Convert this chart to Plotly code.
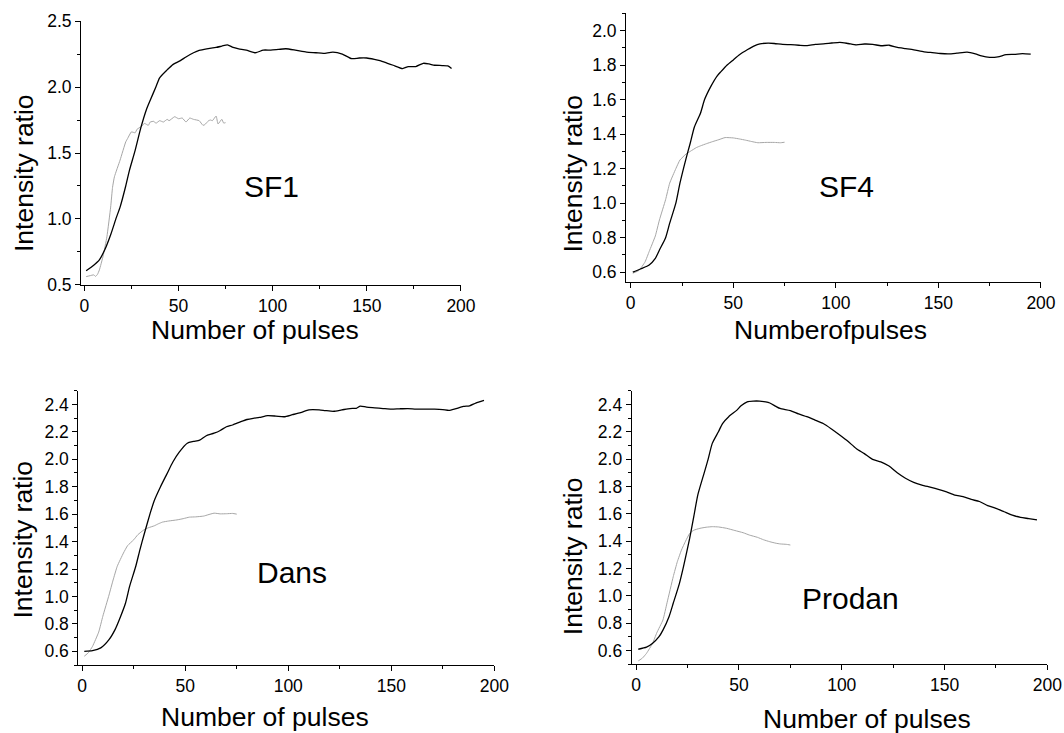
import plotly.graph_objects as go

# ---------------- data ----------------
sf1_black_x = [1, 5, 8, 11, 14, 17, 19, 22, 24, 27, 30, 33, 35, 38, 40, 44, 47, 51, 54, 58, 61, 65, 70, 73, 76,
               79, 82, 86, 91, 95, 99, 103, 107, 112, 118, 123, 127, 132, 137, 142, 146, 150, 154, 157, 161, 164,
               169, 172, 176, 180, 183, 186, 190, 193, 195]
sf1_black_y = [0.608, 0.65, 0.69, 0.77, 0.88, 1.01, 1.09, 1.25, 1.37, 1.52, 1.69, 1.83, 1.90, 2.00, 2.07, 2.13,
               2.17, 2.20, 2.228, 2.26, 2.278, 2.29, 2.30, 2.31, 2.32, 2.30, 2.29, 2.28, 2.26, 2.28, 2.28, 2.285,
               2.29, 2.28, 2.265, 2.26, 2.255, 2.265, 2.25, 2.215, 2.22, 2.22, 2.21, 2.20, 2.18, 2.165, 2.14,
               2.155, 2.155, 2.18, 2.175, 2.165, 2.163, 2.16, 2.14]
sf1_gray_x = [1, 3, 5, 6, 7, 8, 10, 12, 14, 15, 16, 19, 22, 23, 25, 27, 28, 30, 32, 34, 35, 37, 38, 40, 42, 44,
              45, 48, 50, 52, 54, 56, 58, 61, 63, 64, 66, 67, 68, 70, 71, 73, 74, 75]
sf1_gray_y = [0.563, 0.57, 0.576, 0.565, 0.58, 0.613, 0.72, 0.865, 1.09, 1.24, 1.32, 1.446, 1.584, 1.61, 1.66,
              1.653, 1.68, 1.698, 1.724, 1.71, 1.735, 1.74, 1.725, 1.745, 1.735, 1.755, 1.745, 1.775, 1.76,
              1.765, 1.735, 1.765, 1.755, 1.745, 1.71, 1.715, 1.745, 1.75, 1.745, 1.78, 1.72, 1.755, 1.727, 1.73]

sf4_black_x = [1, 5, 9, 12, 14, 17, 19, 22, 24, 27, 29, 31, 34, 36, 39, 42, 44, 47, 50, 53, 57, 60, 63, 67, 70,
               74, 78, 82, 86, 90, 94, 98, 102, 106, 110, 114, 118, 122, 126, 130, 134, 138, 143, 147, 151, 155,
               159, 164, 168, 171, 175, 179, 183, 187, 191, 195]
sf4_black_y = [0.60, 0.62, 0.642, 0.68, 0.729, 0.80, 0.884, 1.00, 1.116, 1.26, 1.347, 1.44, 1.521, 1.60, 1.675,
               1.735, 1.762, 1.80, 1.83, 1.86, 1.89, 1.91, 1.923, 1.927, 1.925, 1.92, 1.918, 1.915, 1.913, 1.92,
               1.923, 1.928, 1.932, 1.925, 1.917, 1.922, 1.92, 1.912, 1.915, 1.902, 1.895, 1.888, 1.877, 1.872,
               1.867, 1.865, 1.869, 1.875, 1.865, 1.853, 1.845, 1.848, 1.86, 1.862, 1.866, 1.863]
sf4_gray_x = [1, 4, 7, 9, 12, 14, 17, 19, 22, 24, 27, 29, 32, 34, 37, 40, 43, 46, 50, 53, 56, 59, 62, 66, 70, 73, 75]
sf4_gray_y = [0.594, 0.61, 0.66, 0.72, 0.81, 0.903, 1.02, 1.116, 1.20, 1.25, 1.285, 1.30, 1.322, 1.332, 1.345,
              1.357, 1.368, 1.38, 1.378, 1.372, 1.365, 1.357, 1.35, 1.352, 1.352, 1.35, 1.353]

dans_black_x = [1, 5, 9, 13, 16, 18, 21, 23, 26, 28, 30, 33, 35, 38, 41, 44, 47, 51, 54, 57, 60, 64, 67, 70, 73,
                77, 80, 83, 86, 90, 94, 98, 102, 106, 110, 115, 118, 122, 126, 130, 133, 135, 138, 142, 146, 150,
                154, 158, 162, 167, 171, 175, 178, 181, 185, 188, 191, 195]
dans_black_y = [0.60, 0.605, 0.625, 0.685, 0.76, 0.83, 0.95, 1.073, 1.22, 1.34, 1.45, 1.607, 1.70, 1.80, 1.89,
                1.98, 2.05, 2.117, 2.13, 2.14, 2.17, 2.19, 2.21, 2.237, 2.25, 2.274, 2.29, 2.299, 2.305, 2.318,
                2.315, 2.31, 2.325, 2.34, 2.36, 2.36, 2.355, 2.35, 2.36, 2.37, 2.372, 2.388, 2.38, 2.375, 2.37,
                2.365, 2.368, 2.37, 2.366, 2.365, 2.365, 2.362, 2.356, 2.367, 2.385, 2.39, 2.41, 2.43]
dans_gray_x = [1, 3, 5, 8, 10, 13, 15, 17, 20, 22, 25, 27, 30, 32, 35, 37, 39, 42, 46, 49, 52, 55, 59, 61, 64,
               67, 70, 73, 75]
dans_gray_y = [0.564, 0.59, 0.636, 0.74, 0.855, 1.01, 1.12, 1.22, 1.316, 1.37, 1.413, 1.45, 1.486, 1.50, 1.515,
               1.53, 1.542, 1.55, 1.558, 1.567, 1.578, 1.58, 1.586, 1.595, 1.607, 1.602, 1.603, 1.605, 1.60]

prodan_black_x = [1, 5, 8, 11, 13, 16, 18, 21, 23, 26, 28, 30, 33, 35, 37, 40, 42, 45, 49, 51, 54, 57, 60, 63,
                  65, 68, 70, 75, 79, 83, 87, 91, 95, 99, 103, 107, 111, 115, 119, 123, 127, 131, 135, 139, 143,
                  147, 151, 155, 159, 163, 167, 171, 175, 179, 183, 187, 191, 195]
prodan_black_y = [0.61, 0.625, 0.654, 0.70, 0.75, 0.85, 0.946, 1.09, 1.214, 1.42, 1.579, 1.74, 1.896, 2.00,
                  2.115, 2.20, 2.26, 2.31, 2.358, 2.39, 2.419, 2.424, 2.424, 2.418, 2.41, 2.385, 2.37, 2.355,
                  2.33, 2.31, 2.285, 2.26, 2.22, 2.176, 2.13, 2.078, 2.04, 1.998, 1.98, 1.949, 1.90, 1.86, 1.83,
                  1.81, 1.795, 1.779, 1.76, 1.737, 1.725, 1.705, 1.69, 1.66, 1.64, 1.615, 1.59, 1.574, 1.565, 1.555]
prodan_gray_x = [1, 3, 5, 8, 10, 13, 15, 18, 20, 22, 24, 26, 28, 31, 34, 37, 40, 44, 48, 52, 55, 59, 62, 65, 68,
                 70, 73, 75]
prodan_gray_y = [0.525, 0.545, 0.58, 0.654, 0.73, 0.824, 0.95, 1.14, 1.25, 1.335, 1.40, 1.457, 1.48, 1.494,
                 1.502, 1.506, 1.504, 1.494, 1.478, 1.462, 1.445, 1.428, 1.41, 1.396, 1.385, 1.38, 1.377, 1.372]

panel_labels = ["SF1", "SF4", "Dans", "Prodan"]
x_titles = ["Number of pulses", "Numberofpulses", "Number of pulses", "Number of pulses"]
y_title = "Intensity ratio"

# ---------------- layout helpers ----------------
W, H = 1064, 733
FONT = "Liberation Sans, Arial, sans-serif"

def fx(px):
    return px / W

def fy(py):
    return 1 - py / H

# pixel boxes: left, right, top, bottom
boxes = [(81, 461, 21, 285), (626, 1041, 13.3, 281.7), (78.3, 494.3, 390.7, 665), (631.7, 1047.3, 390.7, 664.3)]
xranges = [[-1.75, 200.01], [-2.3, 200.01], [-1.9, 200.01], [-2.2, 200.01]]
yranges = [[0.4995, 2.5005], [0.545, 2.1], [0.5, 2.5], [0.5, 2.5]]
ytick = [(0.5, 0.5, 0.25), (0.6, 0.2, 0.1), (0.4, 0.2, 0.1), (0.4, 0.2, 0.1)]
label_pos = [(271.7, 186.7), (846, 186.7), (291.7, 572.7), (850, 598.3)]
xtitle_pos = [(255, 330), (830.5, 330), (265, 717), (866.7, 719)]
ytitle_pos = [(24, 173), (572.5, 174), (22.5, 540), (572.5, 556.7)]

series = [
    (sf1_black_x, sf1_black_y, sf1_gray_x, sf1_gray_y),
    (sf4_black_x, sf4_black_y, sf4_gray_x, sf4_gray_y),
    (dans_black_x, dans_black_y, dans_gray_x, dans_gray_y),
    (prodan_black_x, prodan_black_y, prodan_gray_x, prodan_gray_y),
]

fig = go.Figure()
layout = dict(template="none", width=W, height=H, autosize=False,
              margin=dict(l=0, r=0, t=0, b=0, pad=0), showlegend=False,
              plot_bgcolor="white", paper_bgcolor="white", font=dict(family=FONT, color="black"))
annotations = []

for i, (bx, by, gx, gy) in enumerate(series):
    n = "" if i == 0 else str(i + 1)
    xa, ya = "x" + n, "y" + n
    fig.add_trace(go.Scatter(x=gx, y=gy, mode="lines",
                             line=dict(color="#a6a6a6", width=1, shape="spline", smoothing=0.4),
                             xaxis=xa, yaxis=ya, hoverinfo="skip"))
    fig.add_trace(go.Scatter(x=bx, y=by, mode="lines",
                             line=dict(color="black", width=1.3, shape="spline", smoothing=0.6),
                             xaxis=xa, yaxis=ya, hoverinfo="skip"))
    l, r, t, b = boxes[i]
    layout["xaxis" + n] = dict(domain=[fx(l), fx(r)], range=xranges[i], anchor=ya, automargin=False,
                               showline=True, linecolor="black", linewidth=1, showgrid=False, zeroline=False,
                               ticks="outside", ticklen=5, tickcolor="black", tickwidth=1,
                               tick0=0, dtick=50, tickfont=dict(size=17.5, family=FONT),
                               minor=dict(ticks="outside", ticklen=3, dtick=25, tick0=0, tickcolor="black",
                                          showgrid=False))
    t0, dt, mdt = ytick[i]
    layout["yaxis" + n] = dict(domain=[fy(b), fy(t)], range=yranges[i], anchor=xa, automargin=False,
                               showline=True, linecolor="black", linewidth=1, showgrid=False, zeroline=False,
                               ticks="outside", ticklen=5, tickcolor="black", tickwidth=1,
                               tick0=t0, dtick=dt, tickformat=".1f", tickfont=dict(size=17.5, family=FONT),
                               minor=dict(ticks="outside", ticklen=3, dtick=mdt, tick0=t0, tickcolor="black",
                                          showgrid=False))
    lx, ly = label_pos[i]
    annotations.append(dict(text=panel_labels[i], x=fx(lx), y=fy(ly), xref="paper", yref="paper",
                            showarrow=False, xanchor="center", yanchor="middle",
                            font=dict(size=30, family=FONT, color="black")))
    tx, ty = xtitle_pos[i]
    annotations.append(dict(text=x_titles[i], x=fx(tx), y=fy(ty), xref="paper", yref="paper",
                            showarrow=False, xanchor="center", yanchor="middle",
                            font=dict(size=26.5, family=FONT, color="black")))
    vx, vy = ytitle_pos[i]
    annotations.append(dict(text=y_title, x=fx(vx), y=fy(vy), xref="paper", yref="paper", textangle=-90,
                            showarrow=False, xanchor="center", yanchor="middle",
                            font=dict(size=26.5, family=FONT, color="black")))

layout["annotations"] = annotations
fig.update_layout(**layout)
fig.write_html("out.html", config={"displayModeBar": False})
